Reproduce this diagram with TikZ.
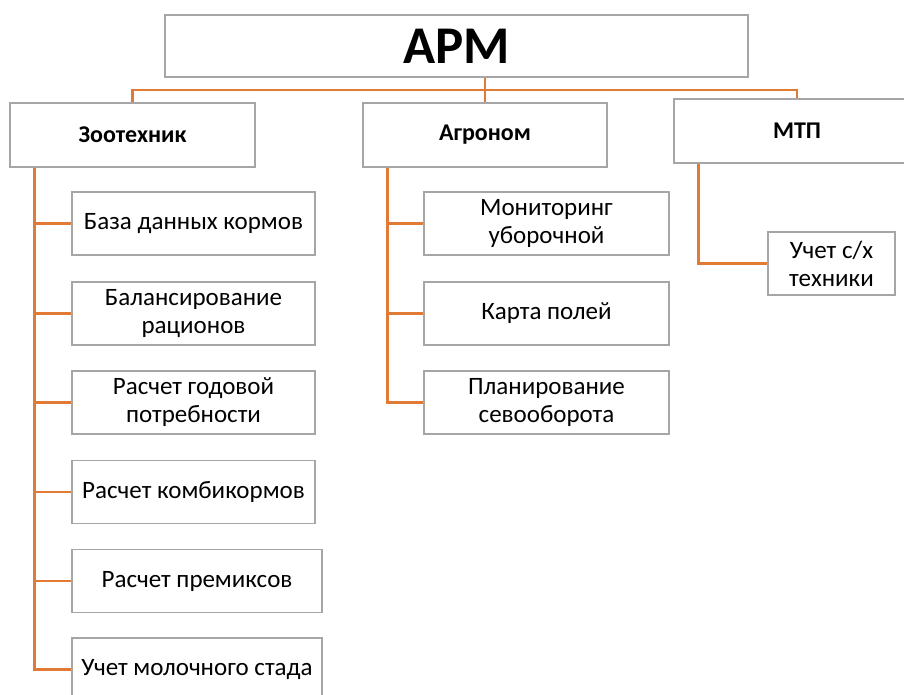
\documentclass[tikz,border=0pt]{standalone}
\usepackage{fontspec}
\setmainfont{Carlito}
\usepackage{tikz}
\usetikzlibrary{positioning}
\definecolor{linkorange}{HTML}{E07A35}
\definecolor{boxgray}{HTML}{A6A6A6}
\tikzset{
	box/.style={draw=boxgray,line width=1.2pt,fill=white,align=center,inner sep=0pt,
		minimum height=63pt,font=\fontsize{25}{28}\selectfont},
	head/.style={box,minimum height=64pt,minimum width=245pt,font=\fontsize{24}{28}\selectfont\bfseries},
	link/.style={draw=linkorange,line width=2.4pt}
}
\begin{document}
\begin{tikzpicture}[x=1pt,y=-1pt]
			\useasboundingbox (0,0) rectangle (904,694);
			\clip (0,0) rectangle (904,694);
			\node[box,minimum width=583pt,minimum height=62pt,font=\fontsize{53}{56}\selectfont\bfseries] (arm) at (456.5,46) {АРМ};
			\node[head] (zoo) at (132.5,135) {Зоотехник};
			\node[head,minimum width=244pt] (agro) at (485,135) {Агроном};
			\node[head,minimum width=246pt] (mtp) at (797,131) {МТП};
			\coordinate (bus) at (486,90);
			\draw[link] (zoo.north) |- (bus) -| (mtp.north);
			\draw[link] (arm.south -| agro.north) -- (agro.north);
			\node[box,minimum width=243pt] (z1) at (193.5,223.5) {База данных кормов};
			\node[box,minimum width=243pt] (z2) at (193.5,313.5) {Балансирование\\рационов};
			\node[box,minimum width=243pt] (z3) at (193.5,402.5) {Расчет годовой\\потребности};
			\node[box,minimum width=243pt] (z4) at (193.5,492) {Расчет комбикормов};
			\node[box,minimum width=250pt] (z5) at (197,581) {Расчет премиксов};
			\node[box,minimum width=250pt] (z6) at (197,669.5) {Учет молочного стада};
			\node[box,minimum width=245pt] (a1) at (546.5,223.5) {Мониторинг\\уборочной};
			\node[box,minimum width=245pt] (a2) at (546.5,313.5) {Карта полей};
			\node[box,minimum width=245pt] (a3) at (546.5,402.5) {Планирование\\севооборота};
			\node[box,minimum width=127pt] (m1) at (831.5,263.5) {Учет с/х\\техники};
			\foreach \c in {z1,z2,z3,z4,z5,z6}
				\draw[link] (zoo.south west) ++(25,0) |- (\c.west);
			\foreach \c in {a1,a2,a3}
				\draw[link] (agro.south west) ++(25,0) |- (\c.west);
			\draw[link] (mtp.south west) ++(25,0) |- (m1.west);
		\end{tikzpicture}
\end{document}
